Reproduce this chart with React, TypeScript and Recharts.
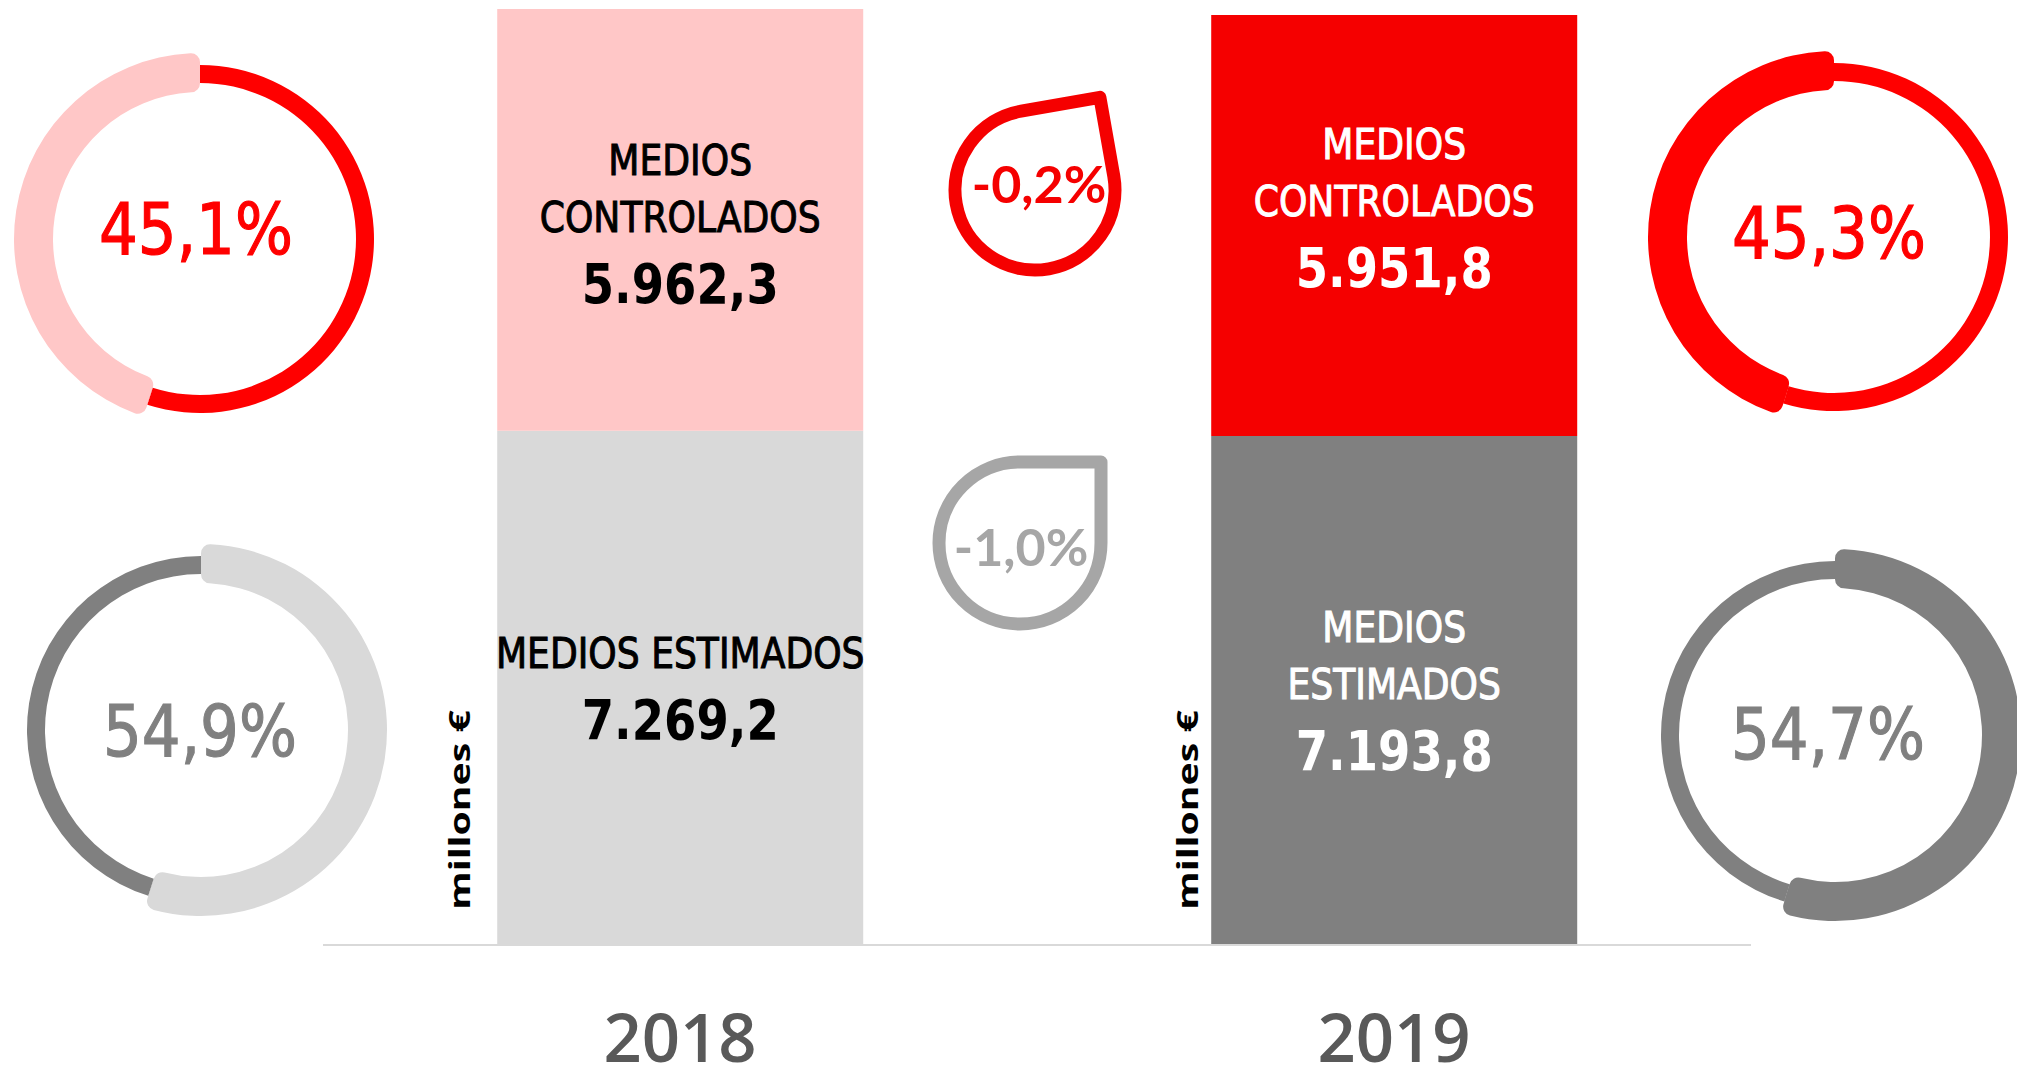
import React from "react";
import { BarChart, Bar, XAxis, YAxis, Cell, LabelList, PieChart, Pie } from "recharts";

// ---------- data ----------
const years = ["2018", "2019"];
const controlled = [5962.3, 5951.8];
const estimated = [7269.2, 7193.8];
const controlledShare = [45.1, 45.3];
const estimatedShare = [54.9, 54.7];
const controlledLines = [["MEDIOS", "CONTROLADOS"], ["MEDIOS", "CONTROLADOS"]];
const estimatedLines = [["MEDIOS ESTIMADOS"], ["MEDIOS", "ESTIMADOS"]];
const unitLabel = "millones €";

// ---------- styles ----------
const W = 2017;
const H = 1066;
const controlledFill = ["#FFC7C7", "#F50000"];
const estimatedFill = ["#D9D9D9", "#808080"];
const barTextColor = ["#000000", "#FFFFFF"];
const controlledLabelShift = [4, -18];
const estimatedLabelShift = [0, 0];

const tableData = years.map((year, i) => ({
  year,
  controlled: controlled[i],
  estimated: estimated[i],
}));
const totals = years.map((_, i) => controlled[i] + estimated[i]);

const fmtNum = (v: number) => {
  const [ip, dp] = Math.abs(v).toFixed(1).split(".");
  return (v < 0 ? "-" : "") + ip.replace(/\B(?=(\d{3})+(?!\d))/g, ".") + "," + dp;
};
const fmtPct = (v: number) => fmtNum(v) + "%";

// donuts: [2018 controlled, 2018 estimated, 2019 controlled, 2019 estimated]
const donutShare = [controlledShare[0], estimatedShare[0], controlledShare[1], estimatedShare[1]];
const donutRest = [estimatedShare[0], controlledShare[0], estimatedShare[1], controlledShare[1]];
const donutThick = ["#FFC7C7", "#D9D9D9", "#FF0000", "#808080"];
const donutThin = ["#FF0000", "#808080", "#FF0000", "#808080"];
const donutText = ["#FF0000", "#808080", "#FF0000", "#808080"];
const donutClockwise = [false, true, false, true];
const donutLayout = [
  { cx: 200, cy: 239, tx: 196, ty: 254 },
  { cx: 201, cy: 730, tx: 200, ty: 756 },
  { cx: 1834, cy: 237, tx: 1829, ty: 258 },
  { cx: 1835, cy: 735, tx: 1828, ty: 759 },
];

// change drops
const changeValues = [
  Math.round(((controlled[1] - controlled[0]) / controlled[0]) * 1000) / 10,
  Math.round(((estimated[1] - estimated[0]) / estimated[0]) * 1000) / 10,
];
const dropColor = ["#F50000", "#A6A6A6"];
const dropLayout = [
  { cx: 1035, cy: 190, r: 80, rot: -10, tx: 1039, ty: 203 },
  { cx: 1020, cy: 543, r: 81, rot: 0, tx: 1021, ty: 566 },
];
const unitLayout = [
  { x: 470, y: 810 },
  { x: 1198, y: 810 },
];

const SANS = "'DejaVu Sans', sans-serif";

const makeBarLabel = (lines: string[][], values: number[], shift: number[]) => (props: any) => {
  const vb = props.viewBox || props;
  const x = Number(vb.x);
  const y = Number(vb.y);
  const w = Number(vb.width);
  const h = Number(vb.height);
  const i = years.indexOf(String(props.value));
  if (i < 0) return null;
  const ls = lines[i];
  const capL = 31;
  const step = 57;
  const vGap = 71;
  const total = capL + (ls.length - 1) * step + vGap;
  const cx = x + w / 2;
  const top = y + h / 2 - total / 2 + shift[i];
  const color = barTextColor[i];
  const vBase = top + capL + (ls.length - 1) * step + vGap;
  return (
    <g>
      {ls.map((t, k) => (
        <text
          key={k}
          transform={`translate(${cx},${top + capL + k * step}) scale(0.84,1)`}
          x={0}
          y={0}
          textAnchor="middle"
          fill={color}
          stroke={color}
          strokeWidth={1.1}
          fontFamily={SANS}
          fontWeight={400}
          fontSize={43}
        >
          {t}
        </text>
      ))}
      <text
        transform={`translate(${cx},${vBase}) scale(0.83,1)`}
        x={0}
        y={0}
        textAnchor="middle"
        fill={color}
        fontFamily={SANS}
        fontWeight={700}
        fontSize={56}
      >
        {fmtNum(values[i])}
      </text>
    </g>
  );
};

const YearTick = (props: any) => {
  const { x, y, payload } = props;
  return (
    <text
      x={x}
      y={Number(y) + 117}
      textAnchor="middle"
      fill="#595959"
      fontFamily="'Open Sans', sans-serif"
      fontWeight={600}
      fontSize={67}
    >
      {payload.value}
    </text>
  );
};

const dropPath = (cx: number, cy: number, r: number) =>
  `M ${cx} ${cy - r} L ${cx + r} ${cy - r} L ${cx + r} ${cy} A ${r} ${r} 0 1 1 ${cx} ${cy - r} Z`;

export default function App() {
  return (
    <div style={{ position: "relative", width: W, height: H, overflow: "hidden", background: "#fff" }}>
      <style>{"html,body{margin:0;padding:0;overflow:hidden;background:#fff}"}</style>
      <div style={{ position: "absolute", left: 0, top: 0 }}>
        <BarChart
          width={W}
          height={H}
          data={tableData}
          margin={{ top: 9, left: 323, right: 266, bottom: 0 }}
          barCategoryGap="24.4%"
        >
          <XAxis
            dataKey="year"
            axisLine={{ stroke: "#D9D9D9", strokeWidth: 2 }}
            tickLine={false}
            tickSize={0}
            tickMargin={0}
            height={121}
            interval={0}
            tick={<YearTick />}
          />
          <YAxis hide domain={[0, Math.max(...totals)]} />
          <Bar dataKey="estimated" stackId="a" isAnimationActive={false} stroke="none">
            {tableData.map((_, i) => (
              <Cell key={i} fill={estimatedFill[i]} />
            ))}
            <LabelList dataKey="year" content={makeBarLabel(estimatedLines, estimated, estimatedLabelShift)} />
          </Bar>
          <Bar dataKey="controlled" stackId="a" isAnimationActive={false} stroke="none">
            {tableData.map((_, i) => (
              <Cell key={i} fill={controlledFill[i]} />
            ))}
            <LabelList dataKey="year" content={makeBarLabel(controlledLines, controlled, controlledLabelShift)} />
          </Bar>
        </BarChart>
      </div>
      <div style={{ position: "absolute", left: 0, top: 0 }}>
        <PieChart width={W} height={H} margin={{ top: 0, left: 0, right: 0, bottom: 0 }}>
          {donutShare.map((s, i) => (
            <Pie
              key={"thin" + i}
              data={[
                { name: "a", value: s },
                { name: "b", value: donutRest[i] },
              ]}
              dataKey="value"
              cx={donutLayout[i].cx}
              cy={donutLayout[i].cy}
              innerRadius={156}
              outerRadius={174}
              startAngle={90}
              endAngle={donutClockwise[i] ? -270 : 450}
              stroke="none"
              fill={donutThin[i]}
              isAnimationActive={false}
            >
              <Cell fill={donutThin[i]} />
              <Cell fill={donutThin[i]} />
            </Pie>
          ))}
          {donutShare.map((s, i) => (
            <Pie
              key={"thick" + i}
              data={[
                { name: "a", value: s },
                { name: "b", value: donutRest[i] },
              ]}
              dataKey="value"
              cx={donutLayout[i].cx}
              cy={donutLayout[i].cy}
              innerRadius={147}
              outerRadius={186}
              cornerRadius={9}
              startAngle={90}
              endAngle={donutClockwise[i] ? -270 : 450}
              stroke="none"
              isAnimationActive={false}
            >
              <Cell fill={donutThick[i]} />
              <Cell fill="none" />
            </Pie>
          ))}
        </PieChart>
      </div>
      <svg
        width={W}
        height={H}
        style={{ position: "absolute", left: 0, top: 0, pointerEvents: "none" }}
      >
        {donutShare.map((s, i) => (
          <text
            key={"dt" + i}
            transform={`translate(${donutLayout[i].tx},${donutLayout[i].ty}) scale(0.86,1)`}
            textAnchor="middle"
            fill={donutText[i]}
            stroke={donutText[i]}
            strokeWidth={1.2}
            fontFamily={SANS}
            fontWeight={400}
            fontSize={71}
          >
            {fmtPct(s)}
          </text>
        ))}
        {changeValues.map((v, i) => {
          const d = dropLayout[i];
          return (
            <g key={"drop" + i}>
              <path
                d={dropPath(d.cx, d.cy, d.r)}
                transform={`rotate(${d.rot} ${d.cx} ${d.cy})`}
                fill="none"
                stroke={dropColor[i]}
                strokeWidth={13}
                strokeLinejoin="round"
              />
              <text
                x={d.tx}
                y={d.ty}
                textAnchor="middle"
                fill={dropColor[i]}
                fontFamily="Lato, sans-serif"
                fontWeight={700}
                fontSize={52}
              >
                {fmtPct(v)}
              </text>
            </g>
          );
        })}
        {unitLayout.map((u, i) => (
          <text
            key={"u" + i}
            transform={`translate(${u.x},${u.y}) rotate(-90) scale(1.4,1)`}
            textAnchor="middle"
            fill="#000"
            fontFamily="'Open Sans', sans-serif"
            fontWeight={700}
            fontSize={28}
          >
            {unitLabel}
          </text>
        ))}
      </svg>
    </div>
  );
}
